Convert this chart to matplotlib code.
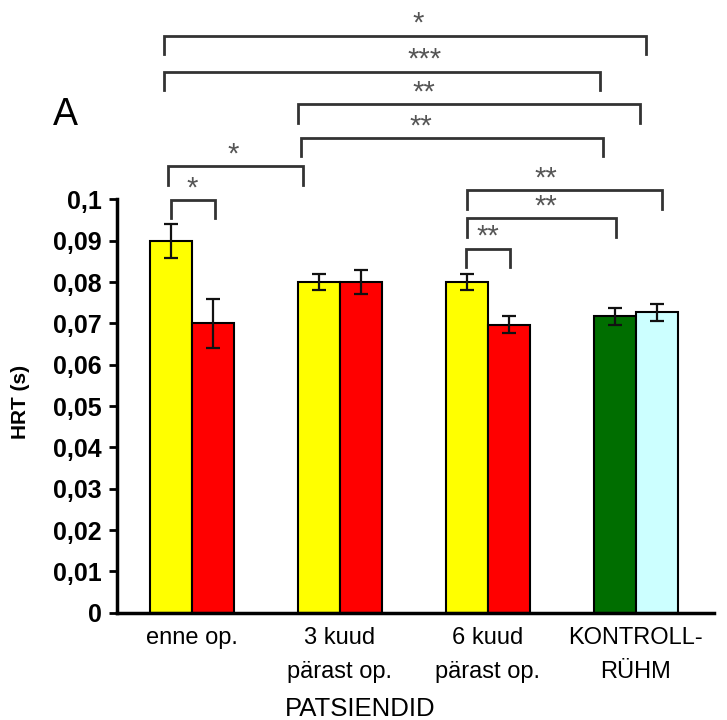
import numpy as np
import matplotlib.pyplot as plt

groups = ["enne op.", "3 kuud\npärast op.", "6 kuud\npärast op.", "KONTROLL-\nRÜHM"]
left_vals = [0.090, 0.080, 0.080, 0.0717]
left_err = [0.0041, 0.0020, 0.0020, 0.0020]
right_vals = [0.070, 0.080, 0.0697, 0.0727]
right_err = [0.0060, 0.0030, 0.0020, 0.0020]
left_colors = ["#ffff00", "#ffff00", "#ffff00", "#006e00"]
right_colors = ["#ff0000", "#ff0000", "#ff0000", "#ccffff"]
yticks = np.arange(0, 0.1001, 0.01)
ytick_labels = ["0"] + ["0,%02d" % i for i in range(1, 10)] + ["0,1"]

# significance brackets: x1, x2, height, stars, star x
brackets = [
    (-0.19, 3.07, 0.1395, "*", 1.53),
    (-0.19, 2.76, 0.1308, "***", 1.57),
    (0.72, 3.03, 0.1230, "**", 1.57),
    (0.74, 2.78, 0.1148, "**", 1.55),
    (-0.16, 0.75, 0.1080, "*", 0.28),
    (-0.14, 0.155, 0.0998, "*", 0.0),
    (1.86, 3.18, 0.1022, "**", 2.39),
    (1.86, 2.87, 0.0954, "**", 2.39),
    (1.855, 2.15, 0.0881, "**", 2.0),
]
leg = 0.0044

plt.rcParams['font.family'] = ['Liberation Sans', 'DejaVu Sans']
fig = plt.figure(figsize=(7.27, 7.2), dpi=100)
ax = fig.add_axes([0.161, 0.149, 0.821, 0.574])

x = np.arange(len(groups))
w = 0.284
ax.bar(x - w/2, left_vals, w, color=left_colors, edgecolor='black', linewidth=1.5,
       yerr=left_err, capsize=5, error_kw=dict(elinewidth=1.6, capthick=1.6, ecolor='#111111'))
ax.bar(x + w/2, right_vals, w, color=right_colors, edgecolor='black', linewidth=1.5,
       yerr=right_err, capsize=5, error_kw=dict(elinewidth=1.6, capthick=1.6, ecolor='#111111'))

for x1, x2, y, lab, lx in brackets:
    ax.plot([x1, x1, x2, x2], [y - leg, y, y, y - leg], color='#333333', lw=2,
            clip_on=False, solid_joinstyle='miter')
    ax.text(lx, y + 0.0010, lab, ha='center', va='baseline', fontsize=21,
            color='#555555', clip_on=False)

ax.set_xlim(-0.507, 3.53)
ax.set_ylim(0, 0.1)
ax.set_yticks(yticks)
ax.set_yticklabels(ytick_labels, fontsize=18, fontweight='bold')
ax.set_xticks(x)
ax.set_xticklabels(groups, fontsize=17, linespacing=1.7)
ax.tick_params(axis='x', length=0, pad=10)
ax.tick_params(axis='y', length=6, width=2, pad=5)
ax.spines['top'].set_visible(False)
ax.spines['right'].set_visible(False)
ax.spines['left'].set_linewidth(2.5)
ax.spines['bottom'].set_linewidth(2.5)
ax.set_ylabel("HRT (s)", fontsize=15, fontweight='bold')
ax.yaxis.set_label_coords(-0.146, 0.51)

ax.text(1.14, -0.249, "PATSIENDID", ha='center', va='baseline', fontsize=18.5,
        transform=ax.get_xaxis_transform())
fig.text(0.09, 0.84, "A", fontsize=27, ha='center', va='center')

fig.savefig("out.png", dpi=100)
